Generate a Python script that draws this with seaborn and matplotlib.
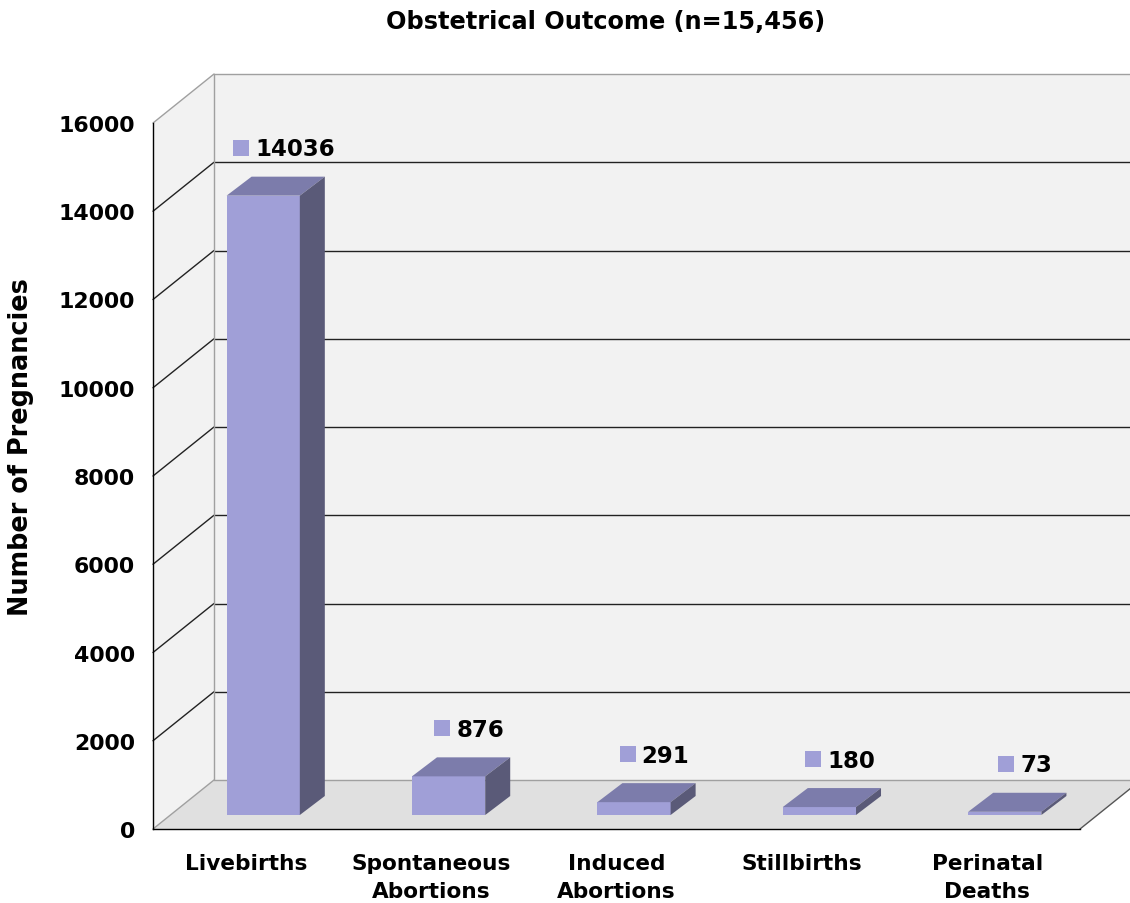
import numpy as np
import pandas as pd
import matplotlib
matplotlib.use('Agg')
import matplotlib.pyplot as plt
import seaborn as sns
from matplotlib.patches import Polygon
from matplotlib.lines import Line2D
from matplotlib.transforms import IdentityTransform, ScaledTranslation, blended_transform_factory

# data
outcomes = ['Livebirths', 'Spontaneous\nAbortions', 'Induced\nAbortions', 'Stillbirths', 'Perinatal\nDeaths']
counts = [14036, 876, 291, 180, 73]
yticks = [0, 2000, 4000, 6000, 8000, 10000, 12000, 14000, 16000]

front_col = '#a09fd7'
top_col = '#7c7cab'
side_col = '#5a5a78'
wall_col = '#f2f2f2'
floor_col = '#e0e0e0'
edge_col = '#a0a0a0'

sns.set_style('white')
plt.rcParams['font.family'] = ['DejaVu Sans']
plt.rcParams['text.color'] = 'black'
plt.rcParams['xtick.color'] = 'black'
plt.rcParams['ytick.color'] = 'black'
plt.rcParams['xtick.labelcolor'] = 'black'
plt.rcParams['ytick.labelcolor'] = 'black'

fig = plt.figure(figsize=(11.3, 9.04), dpi=100)
ax = fig.add_axes([153 / 1130, 74 / 904, 927 / 1130, 706 / 904])

df = pd.DataFrame({'outcome': outcomes, 'count': counts})
sns.barplot(data=df, x='outcome', y='count', color=front_col, saturation=1,
            width=0.395, ax=ax, zorder=3)
ax.set_xlim(-0.5, len(outcomes) - 0.5)
ax.set_ylim(0, 16000)
ax.set_yticks(yticks)
ax.set_xlabel('')
ax.set_ylabel('')
ax.patch.set_visible(False)
for s in ['top', 'right']:
    ax.spines[s].set_visible(False)
for s in ['left', 'bottom']:
    ax.spines[s].set_color('black')
    ax.spines[s].set_linewidth(1.0)
    ax.spines[s].set_zorder(5)

ax.tick_params(axis='y', length=8, width=1, pad=5, labelsize=15.8)
ax.set_xticks(np.arange(len(outcomes) + 1) - 0.5, minor=True)
ax.tick_params(axis='x', which='minor', length=8, width=1)
ax.tick_params(axis='x', which='major', length=0, pad=17, labelsize=15.6)
for t in ax.get_xticklabels() + ax.get_yticklabels():
    t.set_fontweight('bold')
for t in ax.get_xticklabels():
    t.set_linespacing(1.5)

# depth offsets in pixels (dpi=100)
D = np.array([61.0, 49.0])       # full depth of the box
d0 = np.array([17.5, 14.0])      # bar front face depth
bd = np.array([25.0, 19.0])      # bar depth

ident = IdentityTransform()
ax_to_px = ax.transAxes.transform
blend = blended_transform_factory(ax.transAxes, ax.transData)

def poly(pts, fc, z=0):
    p = Polygon(pts, closed=True, facecolor=fc, edgecolor='none', linewidth=0,
                transform=ident, zorder=z, clip_on=False)
    ax.add_artist(p)
    return p

def seg(p1, p2, c, lw=1.0, z=1):
    ax.add_artist(Line2D([p1[0], p2[0]], [p1[1], p2[1]], color=c, lw=lw,
                         transform=ident, zorder=z, clip_on=False))

o00 = ax_to_px((0, 0)); o10 = ax_to_px((1, 0)); o01 = ax_to_px((0, 1)); o11 = ax_to_px((1, 1))
# back wall, left wall, floor
poly([o00 + D, o10 + D + [80, 0], o11 + D + [80, 0], o01 + D], wall_col, z=0)
poly([o00, o00 + D, o01 + D, o01], wall_col, z=0)
poly([o00, o10, o10 + D, o00 + D], floor_col, z=0.5)

# gridlines
for v in yticks:
    a = blend.transform((0, v)); b = blend.transform((1, v))
    c = edge_col if v in (0, yticks[-1]) else '#222222'
    seg(a, a + D, c, lw=1.0, z=1)
    seg(a + D, b + D + np.array([80, 0]), c, lw=1.0, z=1)
seg(o00 + D, o01 + D, edge_col, lw=1.0, z=1)
seg(o10, o10 + D, '#555555', lw=1.0, z=1)

# 3d bars
shift = ScaledTranslation(d0[0] / 100, d0[1] / 100, fig.dpi_scale_trans)
fig.canvas.draw()
for p, val in zip(ax.patches, counts):
    x0 = p.get_x(); w = p.get_width()
    bl = ax.transData.transform((x0, 0)) + d0
    tr = ax.transData.transform((x0 + w, val)) + d0
    p.set_transform(ax.transData + shift)
    p.set_edgecolor('none')
    x1 = tr[0]; y0 = bl[1]; y1 = tr[1]; xl = bl[0]
    poly([(xl, y1), (x1, y1), (x1 + bd[0], y1 + bd[1]), (xl + bd[0], y1 + bd[1])], top_col, z=3)
    poly([(x1, y0), (x1, y1), (x1 + bd[0], y1 + bd[1]), (x1 + bd[0], y0 + bd[1])], side_col, z=3)
    # value label: square + text
    cx = ax.transData.transform((x0 + w / 2, val))[0] + 38
    ly = y1 + bd[1] + 28
    txt = ax.text(0, ly, f'{val}', transform=ident, ha='left', va='center',
                  fontsize=16.5, fontweight='bold', zorder=6, clip_on=False)
    tw = txt.get_window_extent(renderer=fig.canvas.get_renderer()).width
    sq = 16
    sx = cx - (tw + sq + 6) / 2
    txt.set_x(sx + sq + 6)
    poly([(sx, ly - sq / 2 + 1), (sx + sq, ly - sq / 2 + 1), (sx + sq, ly + sq / 2 + 1), (sx, ly + sq / 2 + 1)],
         front_col, z=6)

fig.text(606 / 1130, 1 - 22 / 904, 'Obstetrical Outcome (n=15,456)', ha='center', va='center',
         fontsize=17.3, fontweight='bold')
fig.text(21 / 1130, 1 - 447 / 904, 'Number of Pregnancies', ha='center', va='center',
         rotation=90, fontsize=18.4, fontweight='bold')

fig.savefig('out.png', dpi=100, facecolor='white')
